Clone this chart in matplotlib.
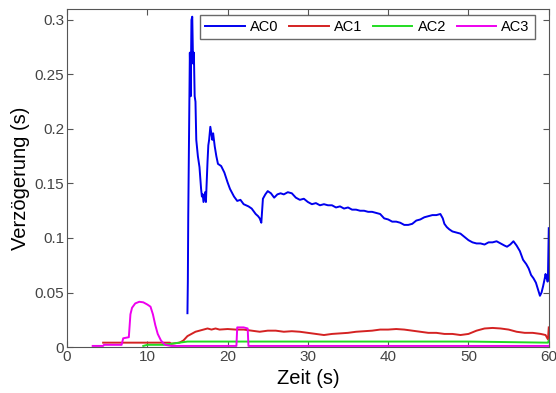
import matplotlib.pyplot as plt

plt.rcParams['font.family'] = ['Liberation Sans', 'DejaVu Sans']

# AC0
ac0_t = [15.0, 15.05, 15.1, 15.2, 15.3, 15.4, 15.5, 15.6, 15.7, 15.8, 15.9, 16.0, 16.1, 16.3, 16.5,
         16.7, 16.8, 16.9, 17.0, 17.2, 17.3, 17.5, 17.6, 17.7, 17.85, 18.0, 18.1, 18.2, 18.4, 18.6,
         18.8, 19.2, 19.6, 20.0, 20.3, 20.8, 21.2, 21.6, 22.0, 22.6, 23.0, 23.5, 23.8, 24.0, 24.2,
         24.3, 24.4, 24.7, 25.0, 25.4, 25.8, 26.2, 26.6, 27.0, 27.5, 28.0, 28.5, 29.0, 29.5, 30.0,
         30.5, 31.0, 31.5, 32.0, 32.5, 33.0, 33.5, 34.0, 34.5, 35.0, 35.5, 36.0, 36.5, 37.0, 37.5,
         38.0, 38.5, 39.0, 39.5, 40.0, 40.5, 41.0, 41.5, 42.0, 42.5, 43.0, 43.5, 44.0, 44.5, 45.0,
         45.5, 46.0, 46.5, 46.8, 47.0, 47.3, 47.6, 48.0, 48.5, 49.0, 49.5, 50.0, 50.5, 51.0, 51.5,
         52.0, 52.5, 53.0, 53.5, 54.0, 54.5, 54.8, 55.2, 55.6, 56.0, 56.4, 56.8, 57.2, 57.5, 57.8,
         58.1, 58.4, 58.7, 58.9, 59.1, 59.3, 59.5, 59.6, 59.7, 59.8, 59.85, 59.9, 59.95, 60.0]
ac0_v = [0.031, 0.06, 0.12, 0.20, 0.27, 0.23, 0.30, 0.303, 0.26, 0.27, 0.23, 0.225, 0.19, 0.175, 0.165,
         0.145, 0.138, 0.14, 0.133, 0.142, 0.133, 0.17, 0.185, 0.19, 0.202, 0.195, 0.19, 0.196, 0.184, 0.175,
         0.168, 0.166, 0.16, 0.151, 0.145, 0.138, 0.134, 0.135, 0.131, 0.129, 0.127, 0.122, 0.12, 0.118, 0.114,
         0.125, 0.136, 0.140, 0.143, 0.141, 0.137, 0.14, 0.141, 0.14, 0.142, 0.141, 0.137, 0.135, 0.136, 0.133,
         0.131, 0.132, 0.130, 0.131, 0.130, 0.130, 0.128, 0.129, 0.127, 0.128, 0.126, 0.126, 0.125, 0.125, 0.124,
         0.124, 0.123, 0.122, 0.118, 0.117, 0.115, 0.115, 0.114, 0.112, 0.112, 0.113, 0.116, 0.117, 0.119, 0.120,
         0.121, 0.121, 0.122, 0.118, 0.113, 0.110, 0.108, 0.106, 0.105, 0.104, 0.101, 0.098, 0.096, 0.095, 0.095,
         0.094, 0.096, 0.096, 0.097, 0.095, 0.093, 0.092, 0.094, 0.097, 0.093, 0.088, 0.080, 0.076, 0.072, 0.066,
         0.063, 0.059, 0.052, 0.047, 0.050, 0.056, 0.063, 0.067, 0.063, 0.066, 0.060, 0.065, 0.09, 0.109]

# AC1
ac1_t = [4.5, 12.8, 13.0, 14.0, 14.5, 15.0, 15.5, 16.0, 16.5, 17.0, 17.5, 18.0, 18.5, 19.0, 20.0,
         21.0, 22.0, 23.0, 24.0, 25.0, 26.0, 27.0, 28.0, 29.0, 30.0, 31.0, 32.0, 33.0, 34.0, 35.0,
         36.0, 37.0, 38.0, 39.0, 40.0, 41.0, 42.0, 43.0, 44.0, 45.0, 46.0, 47.0, 48.0, 49.0, 50.0,
         51.0, 52.0, 53.0, 54.0, 55.0, 56.0, 57.0, 58.0, 59.0, 59.6, 59.9, 60.0]
ac1_v = [0.004, 0.004, 0.003, 0.004, 0.006, 0.010, 0.012, 0.014, 0.015, 0.016, 0.017, 0.016, 0.017, 0.016, 0.0165,
         0.016, 0.016, 0.015, 0.014, 0.015, 0.015, 0.014, 0.0145, 0.014, 0.013, 0.012, 0.011, 0.012, 0.0125, 0.013,
         0.014, 0.0145, 0.015, 0.016, 0.016, 0.0165, 0.016, 0.015, 0.014, 0.013, 0.013, 0.012, 0.012, 0.011, 0.012,
         0.015, 0.017, 0.0175, 0.017, 0.016, 0.014, 0.013, 0.013, 0.012, 0.011, 0.007, 0.018]

# AC2
ac2_t = [9.5, 10.0, 12.0, 13.0, 14.0, 15.0, 20.0, 30.0, 40.0, 50.0, 59.9, 60.0]
ac2_v = [0.001, 0.002, 0.002, 0.003, 0.004, 0.005, 0.005, 0.005, 0.005, 0.005, 0.004, 0.006]

# AC3
ac3_t = [3.2, 4.5, 4.6, 6.8, 7.0, 7.7, 7.9, 8.1, 8.5, 9.0, 9.5, 10.0, 10.4, 10.7, 11.0,
         11.3, 11.7, 12.2, 13.0, 21.1, 21.2, 22.0, 22.5, 22.6, 60.0]
ac3_v = [0.001, 0.001, 0.002, 0.002, 0.008, 0.009, 0.030, 0.036, 0.040, 0.0415, 0.041, 0.039, 0.037, 0.030, 0.020,
         0.012, 0.006, 0.002, 0.001, 0.001, 0.018, 0.018, 0.017, 0.001, 0.001]

fig = plt.figure(figsize=(5.56, 3.93), dpi=100)
ax = fig.add_axes([0.1205, 0.117, 0.8665, 0.86])

ax.plot(ac0_t, ac0_v, color='#0000ee', lw=1.4, label='AC0')
ax.plot(ac1_t, ac1_v, color='#d42222', lw=1.4, label='AC1')
ax.plot(ac2_t, ac2_v, color='#22dd22', lw=1.4, label='AC2')
ax.plot(ac3_t, ac3_v, color='#ee00ee', lw=1.4, label='AC3')

ax.set_xlim(0, 60)
ax.set_ylim(0, 0.31)
ax.set_xticks(range(0, 61, 10))
ax.set_yticks([0, 0.05, 0.1, 0.15, 0.2, 0.25, 0.3])
ax.set_yticklabels(['0', '0.05', '0.1', '0.15', '0.2', '0.25', '0.3'])
ax.tick_params(direction='in', top=True, right=True, length=4, labelsize=11,
               labelcolor='#444444', color='#555555', pad=2)
for s in ax.spines.values():
    s.set_color('#555555')

ax.set_xlabel('Zeit (s)', fontsize=14.5, labelpad=4)
ax.set_ylabel('Verzögerung (s)', fontsize=14.5, labelpad=3)

ax.legend(loc='upper right', ncol=4, fontsize=10.5, frameon=True, fancybox=False,
          edgecolor='#444444', handlelength=2.7, handletextpad=0.35, columnspacing=0.75,
          borderaxespad=0.4, borderpad=0.35, bbox_to_anchor=(0.983, 1.0))

plt.savefig('out.png')
